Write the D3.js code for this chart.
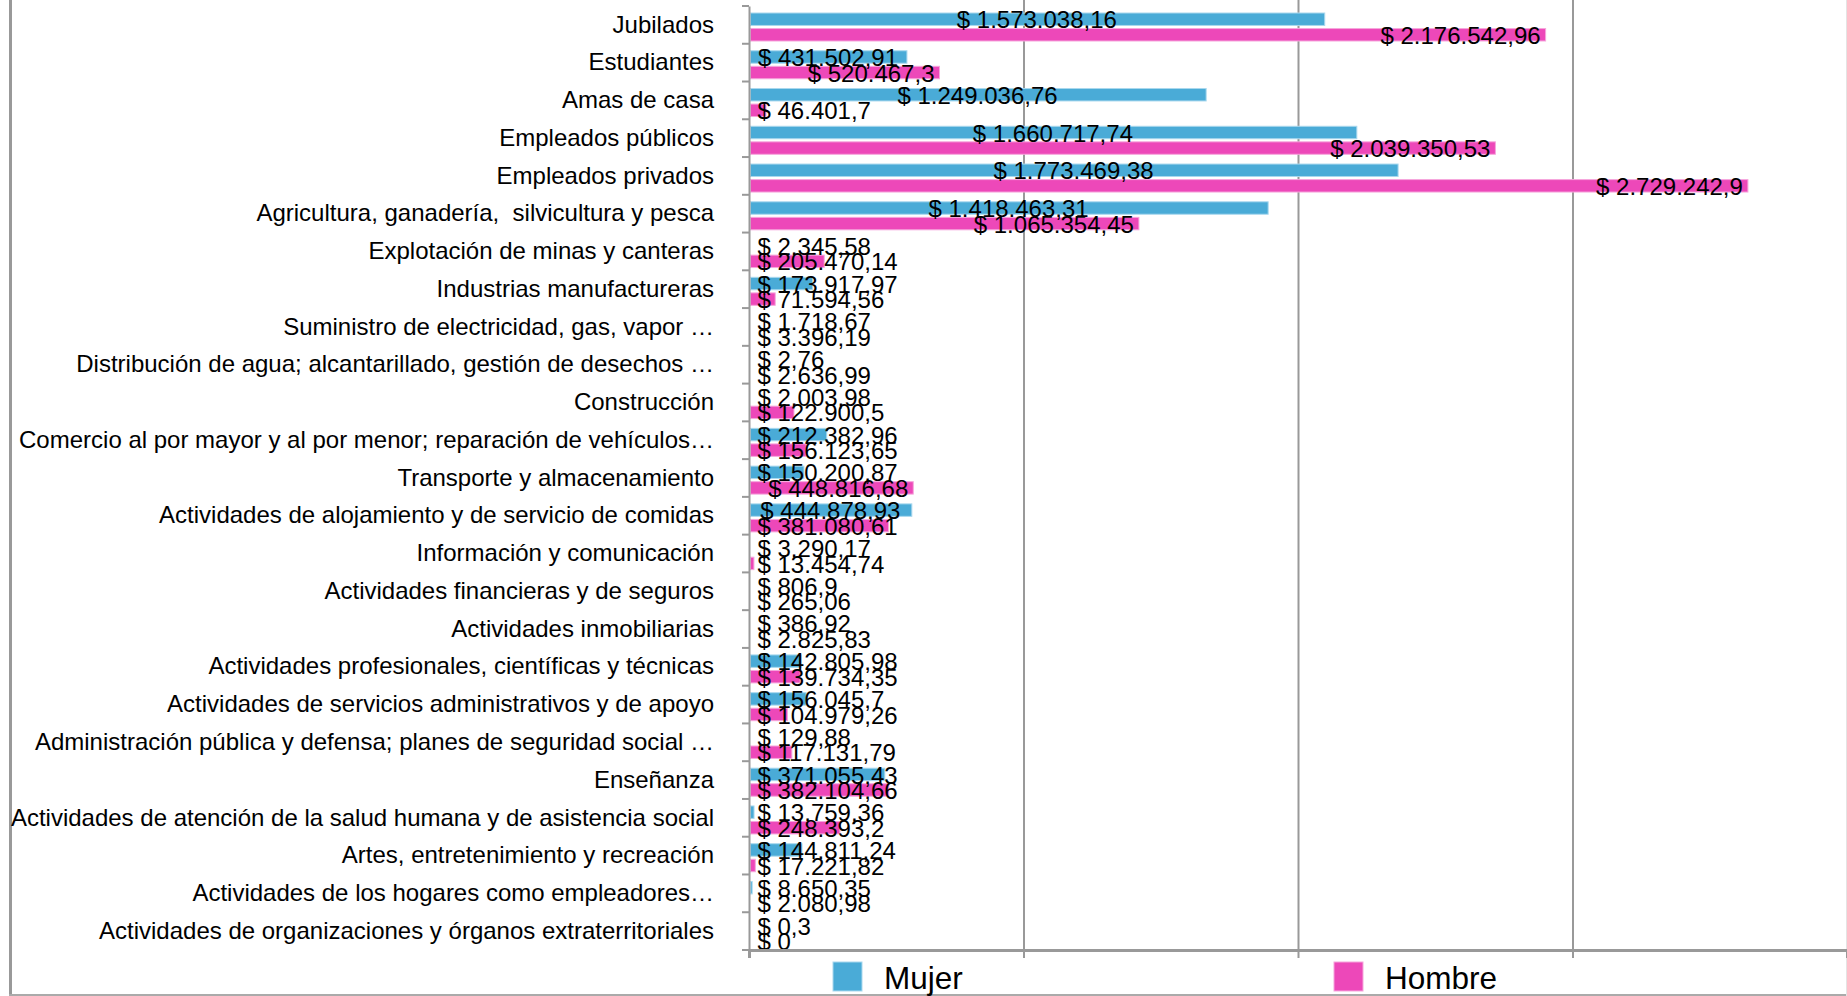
<!DOCTYPE html>
<html>
<head>
<meta charset="utf-8">
<script src="https://cdn.jsdelivr.net/npm/d3@7"></script>
<style>
  body { margin: 0; background: #fff; }
  svg text { font-family: "Liberation Sans", Arial, sans-serif; fill: #000; white-space: pre; }
</style>
</head>
<body>
<svg width="1847" height="996"></svg>
<script>
const categories = [
  "Jubilados",
  "Estudiantes",
  "Amas de casa",
  "Empleados públicos",
  "Empleados privados",
  "Agricultura, ganadería,  silvicultura y pesca",
  "Explotación de minas y canteras",
  "Industrias manufactureras",
  "Suministro de electricidad, gas, vapor …",
  "Distribución de agua; alcantarillado, gestión de desechos …",
  "Construcción",
  "Comercio al por mayor y al por menor; reparación de vehículos…",
  "Transporte y almacenamiento",
  "Actividades de alojamiento y de servicio de comidas",
  "Información y comunicación",
  "Actividades financieras y de seguros",
  "Actividades inmobiliarias",
  "Actividades profesionales, científicas y técnicas",
  "Actividades de servicios administrativos y de apoyo",
  "Administración pública y defensa; planes de seguridad social …",
  "Enseñanza",
  "Actividades de atención de la salud humana y de asistencia social",
  "Artes, entretenimiento y recreación",
  "Actividades de los hogares como empleadores…",
  "Actividades de organizaciones y órganos extraterritoriales"
];

const mujer = [
  1573038.16, 431502.91, 1249036.76, 1660717.74, 1773469.38, 1418463.31,
  2345.58, 173917.97, 1718.67, 2.76, 2003.98, 212382.96, 150200.87,
  444878.93, 3290.17, 806.9, 386.92, 142805.98, 156045.7, 129.88,
  371055.43, 13759.36, 144811.24, 8650.35, 0.3
];

const hombre = [
  2176542.96, 520467.3, 46401.7, 2039350.53, 2729242.9, 1065354.45,
  205470.14, 71594.56, 3396.19, 2636.99, 122900.5, 156123.65, 448816.68,
  381080.61, 13454.74, 265.06, 2825.83, 139734.35, 104979.26, 117131.79,
  382104.66, 248393.2, 17221.82, 2080.98, 0
];

const seriesNames = ["Mujer", "Hombre"];
const seriesColors = ["#4aabd7", "#ed48b9"];
const seriesStroke = ["#a9d8ee", "#f6a6dc"];
const xTicks = [0, 750000, 1500000, 2250000];

const svg = d3.select("svg");
const W = 1847, H = 996;
const plotLeft = 749, plotTop = 6, plotBottom = 950;

// spanish number format: 1.573.038,16
const locale = d3.formatLocale({ decimal: ",", thousands: ".", grouping: [3], currency: ["$ ", ""] });
const fmt = locale.format(",.2~f");

const rows = categories.map((c, i) => ({ cat: c, values: [mujer[i], hombre[i]] }));

const x = d3.scaleLinear().domain([0, 3000000]).range([plotLeft, W]);
const y = d3.scaleBand().domain(categories).range([plotTop, plotBottom]);
const ys = d3.scaleBand().domain([0, 1]).range([7, 35]).paddingInner(0.2);

// frame
svg.append("line").attr("x1", 10.5).attr("x2", 10.5).attr("y1", 0).attr("y2", H)
  .attr("stroke", "#999").attr("stroke-width", 3);
svg.append("line").attr("x1", 9).attr("x2", W).attr("y1", 995).attr("y2", 995)
  .attr("stroke", "#aaa").attr("stroke-width", 2);
svg.append("line").attr("x1", W - 0.5).attr("x2", W - 0.5).attr("y1", 0).attr("y2", H)
  .attr("stroke", "#e4e4e4").attr("stroke-width", 1);

// gridlines
const grid = svg.append("g").attr("transform", `translate(0,${plotBottom})`)
  .call(d3.axisBottom(x).tickValues(xTicks.slice(1)).tickSize(-plotBottom).tickFormat(""));
grid.select(".domain").remove();
grid.selectAll("line").attr("stroke", "#999").attr("stroke-width", 2);

// bars
const g = svg.append("g").selectAll("g").data(rows).join("g")
  .attr("transform", d => `translate(0,${y(d.cat)})`);

g.selectAll("rect").data(d => d.values).join("rect")
  .attr("x", x(0) + 1.5)
  .attr("y", (d, i) => ys(i))
  .attr("width", d => Math.max(0, x(d) - x(0) - 1.5))
  .attr("height", ys.bandwidth())
  .attr("fill", (d, i) => seriesColors[i])
  .attr("stroke", (d, i) => d > 0 ? seriesStroke[i] : "none")
  .attr("stroke-width", 1);

// y axis
const yAxis = svg.append("g").attr("transform", `translate(${plotLeft},0)`)
  .call(d3.axisLeft(y).tickSize(0).tickPadding(35));
yAxis.select(".domain").attr("stroke", "#999").attr("stroke-width", 2);
yAxis.selectAll("text").attr("font-size", "24px").attr("fill", "#000");

// y boundary ticks
const bounds = categories.map(c => y(c)).concat([plotBottom]);
svg.append("g").selectAll("line").data(bounds).join("line")
  .attr("x1", plotLeft - 7).attr("x2", plotLeft).attr("y1", d => d).attr("y2", d => d)
  .attr("stroke", "#999").attr("stroke-width", 2);

// x axis
const xAxis = svg.append("g").attr("transform", `translate(0,${plotBottom})`)
  .call(d3.axisBottom(x).tickValues(xTicks).tickSize(8).tickFormat(""));
xAxis.select(".domain").attr("stroke", "#999").attr("stroke-width", 3);
xAxis.selectAll(".tick line").attr("stroke", "#999").attr("stroke-width", 2);

// data labels
const minStart = plotLeft + 8.5;
g.selectAll("text.lbl").data(d => d.values).join("text")
  .attr("class", "lbl")
  .attr("font-size", "24px")
  .attr("y", (d, i) => ys(i) + ys.bandwidth() / 2)
  .attr("dy", "0.38em")
  .text(d => "$ " + fmt(d))
  .each(function (d, i) {
    const w = this.getComputedTextLength();
    let start;
    if (i === 0) start = (x(0) + x(d)) / 2 - w / 2;
    else start = x(d) - 5 - w;
    if (start < minStart) start = minStart;
    d3.select(this).attr("x", start);
  });

// legend
const legX = [833, 1334];
const leg = svg.append("g").selectAll("g").data(seriesNames).join("g")
  .attr("transform", (d, i) => `translate(${legX[i]},962)`);
leg.append("rect").attr("width", 29).attr("height", 29)
  .attr("fill", (d, i) => seriesColors[i])
  .attr("stroke", (d, i) => seriesStroke[i]).attr("stroke-width", 1);
leg.append("text").attr("x", 51).attr("y", 27).attr("font-size", "31.5px").text(d => d);
</script>
</body>
</html>
